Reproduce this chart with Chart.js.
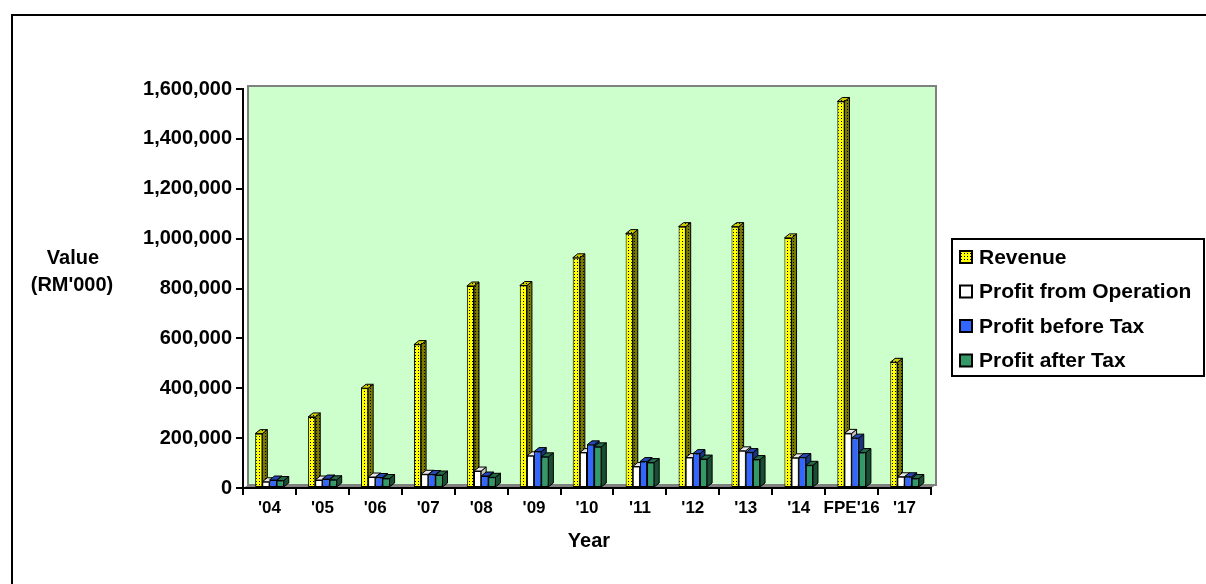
<!DOCTYPE html>
<html>
<head>
<meta charset="utf-8">
<script src="https://cdn.jsdelivr.net/npm/chart.js@4.4.0/dist/chart.umd.min.js"></script>
<style>
  html, body { margin: 0; padding: 0; background: #ffffff; }
  #wrap { position: relative; width: 1206px; height: 584px; }
</style>
</head>
<body>
<div id="wrap"><canvas id="myChart" width="1206" height="584"></canvas></div>
<script>
// categories and series (RM'000)
var years = ["'04", "'05", "'06", "'07", "'08", "'09", "'10", "'11", "'12", "'13", "'14", "FPE'16", "'17"];
var revenue = [218000, 285000, 400000, 575000, 810000, 812000, 923000, 1020000, 1048000, 1048000, 1003000, 1550000, 504000];
var profitOperation = [25000, 32000, 44000, 55000, 68000, 129000, 142000, 86000, 122000, 149000, 121000, 219000, 45000];
var profitBeforeTax = [32000, 36000, 42000, 54000, 48000, 146000, 173000, 106000, 138000, 142000, 122000, 200000, 45000];
var profitAfterTax = [30000, 33000, 38000, 52000, 43000, 125000, 165000, 102000, 116000, 114000, 91000, 142000, 38000];
var seriesNames = ["Revenue", "Profit from Operation", "Profit before Tax", "Profit after Tax"];
var yMax = 1600000;
var yStep = 200000;

var FONT = "'Liberation Sans', Arial, sans-serif";
var DX = 5, DY = 4; // bar depth

function dotPattern(bg) {
  var c = document.createElement("canvas");
  c.width = 3;
  c.height = 3;
  var g = c.getContext("2d");
  g.fillStyle = bg;
  g.fillRect(0, 0, 3, 3);
  g.fillStyle = "#000000";
  g.fillRect(1, 1, 1, 1);
  return g.createPattern(c, "repeat");
}

var frontColors = [dotPattern("#FFFF00"), "#FFFFFF", "#3366FF", "#339966"];
var sideColors = [dotPattern("#7A7A00"), "#BFBFBF", "#1A3380", "#1A4D33"];
var topColors = [dotPattern("#CCCC00"), "#E6E6E6", "#2447B3", "#246B47"];

function poly(ctx, pts, fill) {
  ctx.beginPath();
  ctx.moveTo(pts[0][0], pts[0][1]);
  for (var k = 1; k < pts.length; k++) ctx.lineTo(pts[k][0], pts[k][1]);
  ctx.closePath();
  ctx.fillStyle = fill;
  ctx.fill();
  ctx.lineWidth = 1;
  ctx.strokeStyle = "#000000";
  ctx.stroke();
}

// frame, back wall and floor
var wallPlugin = {
  id: "wall",
  beforeDraw: function (chart) {
    var ctx = chart.ctx, a = chart.chartArea;
    ctx.save();
    ctx.strokeStyle = "#000000";
    ctx.lineWidth = 2;
    ctx.beginPath();
    ctx.moveTo(12, 584);
    ctx.lineTo(12, 15);
    ctx.lineTo(1206, 15);
    ctx.stroke();

    ctx.fillStyle = "#CCFFCC";
    ctx.fillRect(a.left + 5, a.top - 3, a.right - a.left, a.bottom - a.top);
    ctx.strokeStyle = "#808080";
    ctx.lineWidth = 2;
    ctx.strokeRect(a.left + 5, a.top - 3, a.right - a.left, a.bottom - a.top);
    ctx.fillStyle = "#808080";
    ctx.beginPath();
    ctx.moveTo(a.left, a.bottom);
    ctx.lineTo(a.right, a.bottom);
    ctx.lineTo(a.right + 5, a.bottom - 3);
    ctx.lineTo(a.left + 5, a.bottom - 3);
    ctx.closePath();
    ctx.fill();
    ctx.restore();
  }
};

// side and top faces of the bars, drawn before the front faces
var depthPlugin = {
  id: "depth3d",
  beforeDatasetsDraw: function (chart) {
    var ctx = chart.ctx;
    ctx.save();
    for (var j = 0; j < chart.data.labels.length; j++) {
      for (var i = 0; i < chart.data.datasets.length; i++) {
        var bar = chart.getDatasetMeta(i).data[j];
        var p = bar.getProps(["x", "y", "base", "width"], true);
        var l = p.x - p.width / 2, r = p.x + p.width / 2, t = p.y, b = p.base;
        poly(ctx, [[r, t], [r + DX, t - DY], [r + DX, b - DY], [r, b]], sideColors[i]);
        poly(ctx, [[l, t], [l + DX, t - DY], [r + DX, t - DY], [r, t]], topColors[i]);
      }
    }
    ctx.restore();
  }
};

// axis titles and boxed legend
var textPlugin = {
  id: "texts",
  afterDraw: function (chart) {
    var ctx = chart.ctx;
    ctx.save();
    ctx.fillStyle = "#000000";
    ctx.font = "bold 20px " + FONT;
    ctx.textAlign = "center";
    ctx.textBaseline = "middle";
    ctx.fillText("Value", 73, 258);
    ctx.fillText("(RM'000)", 72, 285);
    ctx.fillText("Year", 589, 541);

    var lx = 952, ly = 239, lw = 252, lh = 137;
    ctx.fillStyle = "#FFFFFF";
    ctx.fillRect(lx, ly, lw, lh);
    ctx.strokeStyle = "#000000";
    ctx.lineWidth = 2;
    ctx.strokeRect(lx, ly, lw, lh);
    ctx.textAlign = "left";
    ctx.font = "bold 21px " + FONT;
    for (var i = 0; i < seriesNames.length; i++) {
      var cy = 257 + i * 34.5;
      ctx.fillStyle = frontColors[i];
      ctx.fillRect(960, cy - 6, 12, 12);
      ctx.lineWidth = 2;
      ctx.strokeRect(960, cy - 6, 12, 12);
      ctx.fillStyle = "#000000";
      ctx.fillText(seriesNames[i], 979, cy + 1);
    }
    ctx.restore();
  }
};

var datasets = [revenue, profitOperation, profitBeforeTax, profitAfterTax].map(function (vals, i) {
  return {
    label: seriesNames[i],
    data: vals,
    backgroundColor: frontColors[i],
    borderColor: "#000000",
    borderWidth: 1,
    borderSkipped: false,
    categoryPercentage: 0.54,
    barPercentage: 1.0
  };
});

var ctx = document.getElementById("myChart").getContext("2d");
var myChart = new Chart(ctx, {
  type: "bar",
  data: { labels: years, datasets: datasets },
  options: {
    responsive: false,
    animation: false,
    layout: { padding: { top: 89, right: 275, left: 0, bottom: 0 } },
    scales: {
      x: {
        grid: { drawOnChartArea: false, drawTicks: true, tickLength: 7, color: "#000000", lineWidth: 2 },
        border: { color: "#000000", width: 2 },
        ticks: {
          color: "#000000",
          padding: 3,
          maxRotation: 0,
          autoSkip: false,
          font: { family: FONT, size: 17, weight: "bold" }
        },
        afterFit: function (scale) { scale.height = 96; }
      },
      y: {
        min: 0,
        max: yMax,
        grid: { drawOnChartArea: false, drawTicks: true, tickLength: 7, color: "#000000", lineWidth: 2 },
        border: { color: "#000000", width: 2 },
        ticks: {
          stepSize: yStep,
          color: "#000000",
          padding: 4,
          font: { family: FONT, size: 20, weight: "bold" },
          callback: function (value) { return value.toLocaleString("en-US"); }
        },
        afterFit: function (scale) { scale.width = 243; }
      }
    },
    plugins: {
      legend: { display: false },
      tooltip: { enabled: false }
    }
  },
  plugins: [wallPlugin, depthPlugin, textPlugin]
});
</script>
</body>
</html>
